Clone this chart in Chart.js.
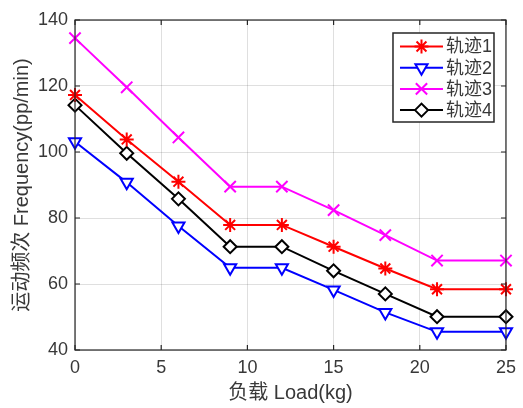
<!DOCTYPE html>
<html>
<head>
<meta charset="utf-8">
<script src="https://cdn.jsdelivr.net/npm/chart.js@4/dist/chart.umd.min.js"></script>
<style>
  html, body { margin: 0; padding: 0; background: #fff; }
  #wrap { width: 523px; height: 408px; position: relative; }
</style>
</head>
<body>
<div id="wrap"><canvas id="myChart"></canvas></div>
<script>
    // values
    var loads = [0, 3, 6, 9, 12, 15, 18, 21, 25];
    var track1 = [117.3, 103.8, 91.0, 77.9, 77.9, 71.3, 64.7, 58.4, 58.4];
    var track2 = [103.1, 90.8, 77.6, 64.9, 64.9, 58.2, 51.4, 45.5, 45.5];
    var track3 = [134.5, 119.6, 104.4, 89.5, 89.5, 82.4, 74.8, 67.1, 67.1];
    var track4 = [114.2, 99.6, 85.8, 71.3, 71.3, 64.0, 57.0, 50.1, 50.1];
    var seriesNames = ['轨迹1', '轨迹2', '轨迹3', '轨迹4'];
    var xTicks = [0, 5, 10, 15, 20, 25];
    var yTicks = [40, 60, 80, 100, 120, 140];

    var axisColor = '#262626';
    var textColor = '#383838';
    var fontFamily = '"Liberation Sans", Arial, "Noto Sans CJK SC", sans-serif';
    var cjkFamily = '"Liberation Sans", "Noto Sans CJK SC", sans-serif';

    function pts(ys) {
        return loads.map(function (x, i) { return { x: x, y: ys[i] }; });
    }

    function makeSet(label, ys, color, style, radius, rotation, fill) {
        return {
            label: label,
            data: pts(ys),
            showLine: true,
            borderColor: color,
            backgroundColor: color,
            borderWidth: 2,
            pointStyle: style,
            pointRadius: radius,
            pointHoverRadius: radius,
            pointRotation: rotation,
            pointBorderColor: color,
            pointBackgroundColor: fill,
            pointBorderWidth: 2,
            clip: false
        };
    }

    var data = {
        datasets: [
            makeSet(seriesNames[0], track1, '#ff0000', 'star', 7, 0, '#ff0000'),
            makeSet(seriesNames[1], track2, '#0000ff', 'triangle', 7, 180, '#ffffff'),
            makeSet(seriesNames[2], track3, '#ff00ff', 'crossRot', 8, 0, '#ff00ff'),
            makeSet(seriesNames[3], track4, '#000000', 'rectRot', 6.5, 0, '#ffffff')
        ]
    };

    // axis box, inward ticks and legend box (matlab look)
    var boxPlugin = {
        id: 'boxPlugin',
        afterDatasetsDraw: function (chart) {
            var ctx = chart.ctx;
            var a = chart.chartArea;
            var xs = chart.scales.x, ys = chart.scales.y;
            ctx.save();
            ctx.strokeStyle = axisColor;
            ctx.lineWidth = 1.2;
            ctx.strokeRect(a.left, a.top, a.right - a.left, a.bottom - a.top);
            ctx.beginPath();
            xTicks.forEach(function (v) {
                var px = xs.getPixelForValue(v);
                ctx.moveTo(px, a.bottom); ctx.lineTo(px, a.bottom - 5);
                ctx.moveTo(px, a.top); ctx.lineTo(px, a.top + 5);
            });
            yTicks.forEach(function (v) {
                var py = ys.getPixelForValue(v);
                ctx.moveTo(a.left, py); ctx.lineTo(a.left + 5, py);
                ctx.moveTo(a.right, py); ctx.lineTo(a.right - 5, py);
            });
            ctx.stroke();

            // legend
            var lx = a.right - 113, ly = a.top + 13, lw = 101, lh = 89;
            ctx.fillStyle = '#ffffff';
            ctx.fillRect(lx, ly, lw, lh);
            ctx.lineWidth = 1.5;
            ctx.strokeStyle = axisColor;
            ctx.strokeRect(lx, ly, lw, lh);
            ctx.font = '18px ' + cjkFamily;
            ctx.textBaseline = 'middle';
            chart.data.datasets.forEach(function (ds, i) {
                var rowY = ly + 13.5 + i * 21.2;
                ctx.strokeStyle = ds.borderColor;
                ctx.lineWidth = 2;
                ctx.beginPath();
                ctx.moveTo(lx + 7, rowY);
                ctx.lineTo(lx + 50, rowY);
                ctx.stroke();
                ctx.fillStyle = ds.pointBackgroundColor;
                ctx.strokeStyle = ds.pointBorderColor;
                Chart.helpers.drawPoint(ctx, {
                    pointStyle: ds.pointStyle,
                    radius: ds.pointRadius,
                    rotation: ds.pointRotation,
                    borderWidth: 2
                }, lx + 28.5, rowY);
                ctx.fillStyle = textColor;
                ctx.fillText(ds.label, lx + 53, rowY + 1);
            });
            ctx.restore();
        }
    };

    var config = {
        type: 'scatter',
        data: data,
        options: {
            responsive: true,
            maintainAspectRatio: false,
            animation: false,
            layout: { padding: { top: 20, right: 16, left: 0, bottom: 0 } },
            plugins: {
                legend: { display: false },
                tooltip: { enabled: false }
            },
            scales: {
                x: {
                    type: 'linear',
                    min: 0,
                    max: 25,
                    afterBuildTicks: function (scale) {
                        scale.ticks = xTicks.map(function (v) { return { value: v }; });
                    },
                    afterFit: function (scale) { scale.height = 58; },
                    grid: { color: 'rgba(38,38,38,0.15)', drawTicks: false },
                    border: { display: false },
                    ticks: {
                        padding: 7,
                        color: textColor,
                        font: { family: fontFamily, size: 18 }
                    },
                    title: {
                        display: true,
                        text: '负载 Load(kg)',
                        color: textColor,
                        font: { family: cjkFamily, size: 20 },
                        padding: { top: 0, bottom: 3 }
                    }
                },
                y: {
                    min: 40,
                    max: 140,
                    afterBuildTicks: function (scale) {
                        scale.ticks = yTicks.map(function (v) { return { value: v }; });
                    },
                    afterFit: function (scale) { scale.width = 75; },
                    grid: { color: 'rgba(38,38,38,0.15)', drawTicks: false },
                    border: { display: false },
                    ticks: {
                        padding: 7,
                        color: textColor,
                        font: { family: fontFamily, size: 18 }
                    },
                    title: {
                        display: true,
                        text: '运动频次 Frequency(pp/min)',
                        color: textColor,
                        font: { family: cjkFamily, size: 20 },
                        padding: { top: 10, bottom: 0 }
                    }
                }
            }
        },
        plugins: [boxPlugin]
    };

    var myChart = new Chart(
        document.getElementById('myChart').getContext('2d'),
        config
    );
</script>
</body>
</html>
